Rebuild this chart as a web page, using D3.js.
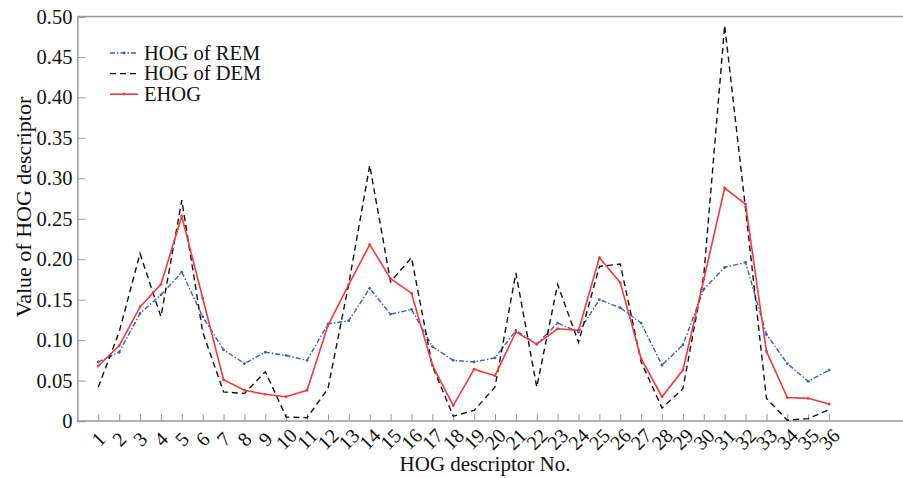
<!DOCTYPE html>
<html lang="en">
  <head>
    <meta charset="utf-8">
    <title>HOG descriptor</title>
    <script src="https://d3js.org/d3.v7.min.js"></script>
    <style>
      body { margin: 0; background: #fff; }
      text { font-family: "Liberation Serif", "DejaVu Serif", serif; fill: #111; }
    </style>
  </head>
  <body>
    <div id="chart"></div>
    <script type="text/javascript">
      // descriptor numbers 1..36
      var bins = d3.range(1, 37);

      // HOG of REM (blue dash-dot)
      var hogREM = [0.073, 0.085, 0.133, 0.156, 0.184, 0.129, 0.088, 0.071, 0.085, 0.081,
                    0.075, 0.120, 0.124, 0.164, 0.132, 0.138, 0.092, 0.075, 0.073, 0.078,
                    0.112, 0.095, 0.121, 0.110, 0.150, 0.140, 0.121, 0.069, 0.094, 0.163,
                    0.190, 0.196, 0.107, 0.071, 0.049, 0.063];

      // HOG of DEM (black dashed)
      var hogDEM = [0.042, 0.110, 0.207, 0.129, 0.273, 0.110, 0.036, 0.034, 0.061, 0.005,
                    0.004, 0.040, 0.170, 0.316, 0.172, 0.202, 0.068, 0.006, 0.013, 0.042,
                    0.183, 0.042, 0.169, 0.097, 0.191, 0.194, 0.073, 0.016, 0.040, 0.180,
                    0.489, 0.262, 0.028, 0.001, 0.003, 0.014];

      // EHOG (red solid)
      var ehog = [0.068, 0.093, 0.141, 0.169, 0.253, 0.152, 0.051, 0.038, 0.033, 0.030,
                  0.038, 0.118, 0.169, 0.218, 0.176, 0.158, 0.069, 0.019, 0.064, 0.056,
                  0.110, 0.095, 0.114, 0.112, 0.202, 0.171, 0.077, 0.030, 0.063, 0.175,
                  0.288, 0.268, 0.086, 0.029, 0.028, 0.021];

      var yTicks = [0, 0.05, 0.10, 0.15, 0.20, 0.25, 0.30, 0.35, 0.40, 0.45, 0.50];

      var series = [
        {name: "HOG of REM", values: hogREM, color: "#3a5cc4", dash: "5,2,1.5,2", width: 1.4, dots: true},
        {name: "HOG of DEM", values: hogDEM, color: "#111111", dash: "6,4", width: 1.4, dots: false},
        {name: "EHOG", values: ehog, color: "#f23a3a", dash: null, width: 1.6, dots: true}
      ];

      var width = 903, height = 478;
      var svg = d3.select("#chart")
        .append("svg")
        .attr("width", width)
        .attr("height", height);

      // scales
      var x = d3.scaleLinear().domain([0, 40]).range([77.4, 77.4 + 40 * 20.88]);
      var y = d3.scaleLinear().domain([0, 0.5]).range([421, 16.5]);

      var frameColor = "#9a9a9a";

      // frame: top line across the whole width
      svg.append("line")
        .attr("x1", x(0)).attr("x2", width)
        .attr("y1", y(0.5)).attr("y2", y(0.5))
        .attr("stroke", frameColor).attr("stroke-width", 1.5);

      // y axis, ticks pointing inward
      var yAxis = d3.axisRight(y)
        .tickValues(yTicks)
        .tickSize(8)
        .tickFormat(function(d) { return d === 0 ? "0" : d.toFixed(2); });
      var gy = svg.append("g")
        .attr("transform", "translate(" + x(0) + ",0)")
        .call(yAxis);
      gy.select(".domain").attr("stroke", frameColor).attr("stroke-width", 1.5);
      gy.selectAll(".tick line").attr("stroke", frameColor);
      gy.selectAll(".tick text")
        .attr("x", -5)
        .attr("text-anchor", "end")
        .style("font-size", "20.5px");

      // x axis, ticks pointing up
      var xAxis = d3.axisTop(x)
        .tickValues(bins)
        .tickSize(7)
        .tickFormat("");
      var gx = svg.append("g")
        .attr("transform", "translate(0," + y(0) + ")")
        .call(xAxis);
      gx.select(".domain").attr("d", "M" + x(0) + ",0H" + width)
        .attr("stroke", frameColor).attr("stroke-width", 1.5);
      gx.selectAll(".tick line").attr("stroke", frameColor);

      // rotated x tick labels
      svg.append("g").selectAll("text")
        .data(bins)
        .enter()
        .append("text")
          .attr("transform", function(d) { return "translate(" + x(d) + ",439)rotate(-45)"; })
          .attr("text-anchor", "middle")
          .attr("dy", "0.35em")
          .style("font-size", "20px")
          .text(function(d) { return d; });

      // axis titles
      svg.append("text")
        .attr("x", 485)
        .attr("y", 471)
        .attr("text-anchor", "middle")
        .style("font-size", "21px")
        .text("HOG descriptor No.");

      svg.append("text")
        .attr("transform", "translate(31,207)rotate(-90)")
        .attr("text-anchor", "middle")
        .style("font-size", "22px")
        .text("Value of HOG descriptor");

      // lines
      var line = d3.line()
        .x(function(d, i) { return x(bins[i]); })
        .y(function(d) { return y(d); });

      series.forEach(function(s) {
        svg.append("path")
          .datum(s.values)
          .attr("fill", "none")
          .attr("stroke", s.color)
          .attr("stroke-width", s.width)
          .attr("stroke-dasharray", s.dash)
          .attr("d", line);
        if (s.dots) {
          svg.append("g").selectAll("circle")
            .data(s.values)
            .enter()
            .append("circle")
              .attr("cx", function(d, i) { return x(bins[i]); })
              .attr("cy", function(d) { return y(d); })
              .attr("r", 1.4)
              .attr("fill", s.color);
        }
      });

      // legend
      var legend = svg.append("g").attr("transform", "translate(110,53)");
      series.forEach(function(s, i) {
        var row = legend.append("g").attr("transform", "translate(0," + (i * 20.6) + ")");
        row.append("line")
          .attr("x1", 0).attr("x2", 28)
          .attr("stroke", s.color)
          .attr("stroke-width", s.width)
          .attr("stroke-dasharray", s.dash);
        if (s.dots) {
          row.append("circle").attr("cx", 14).attr("r", 1.4).attr("fill", s.color);
        }
        row.append("text")
          .attr("x", 34)
          .attr("dy", "0.33em")
          .style("font-size", "20.5px")
          .text(s.name);
      });
    </script>
  </body>
</html>
